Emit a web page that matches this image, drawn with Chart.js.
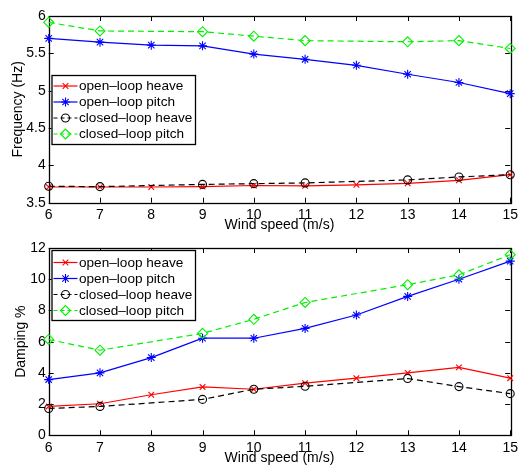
<!DOCTYPE html>
<html>
<head>
<meta charset="utf-8">
<script src="https://cdn.jsdelivr.net/npm/chart.js@4.4.0/dist/chart.umd.min.js"></script>
<style>
  html, body { margin: 0; padding: 0; background: #fff; }
  #wrap { position: relative; width: 522px; height: 465px; overflow: hidden; }
  canvas { position: absolute; left: 0; }
</style>
</head>
<body>
<div id="wrap">
  <canvas id="freq-canvas" width="522" height="232" style="top:0"></canvas>
  <canvas id="damp-canvas" width="522" height="233" style="top:232px"></canvas>
</div>
<script>
// wind speed on the x axis, shared by both panels
const windSpeed = [6, 7, 8, 9, 10, 11, 12, 13, 14, 15];

// frequency (Hz)
const freqOpenHeave   = [3.71, 3.71, 3.71, 3.715, 3.73, 3.725, 3.74, 3.76, 3.80, 3.875];
const freqOpenPitch   = [5.70, 5.65, 5.61, 5.60, 5.49, 5.42, 5.34, 5.22, 5.11, 4.96];
const freqClosedHeave = [3.72, 3.715, null, 3.745, 3.755, 3.765, null, 3.805, 3.845, 3.875];
const freqClosedPitch = [5.915, 5.80, null, 5.79, 5.73, 5.67, null, 5.655, 5.67, 5.565];

// damping (%)
const dampOpenHeave   = [1.85, 2.02, 2.6, 3.1, 2.95, 3.34, 3.66, 4.0, 4.35, 3.66];
const dampOpenPitch   = [3.57, 4.0, 4.98, 6.22, 6.22, 6.85, 7.71, 8.9, 10.0, 11.16];
const dampClosedHeave = [1.72, 1.85, null, 2.30, 2.95, 3.14, null, 3.64, 3.12, 2.67];
const dampClosedPitch = [6.14, 5.45, null, 6.53, 7.43, 8.51, null, 9.65, 10.28, 11.57];

const seriesNames = ['open\u2013loop heave', 'open\u2013loop pitch', 'closed\u2013loop heave', 'closed\u2013loop pitch'];
const freqTicks = [3.5, 4, 4.5, 5, 5.5, 6];
const dampTicks = [0, 2, 4, 6, 8, 10, 12];

const FONT = "'Liberation Sans', Arial, Helvetica, sans-serif";
Chart.defaults.font.family = FONT;
Chart.defaults.color = '#000';

// matlab-ish line styles
const STYLES = [
  { color: '#ff0000', dash: [],     point: 'crossRot', radius: 4 },
  { color: '#0000ff', dash: [],     point: 'star',     radius: 4.5 },
  { color: '#000000', dash: [6, 4], point: 'circle',   radius: 4 },
  { color: '#00f000', dash: [6, 4], point: 'rectRot',  radius: 5 }
];

function makeDatasets(arrays) {
  return arrays.map((vals, i) => ({
    label: seriesNames[i],
    data: vals,
    borderColor: STYLES[i].color,
    borderWidth: 1.2,
    borderDash: STYLES[i].dash,
    pointStyle: STYLES[i].point,
    pointRadius: STYLES[i].radius,
    pointBorderColor: STYLES[i].color,
    pointBackgroundColor: 'rgba(0,0,0,0)',
    pointBorderWidth: 1.1,
    tension: 0,
    fill: false,
    spanGaps: true,
    clip: false,
    order: 3 - i
  }));
}

// axes box with inward tick marks on all four sides
const boxTicksPlugin = {
  id: 'boxTicks',
  beforeDatasetsDraw(chart) {
    var ctx = chart.ctx, a = chart.chartArea;
    var xs = chart.scales.x, ys = chart.scales.y;
    var len = 5;
    ctx.save();
    ctx.strokeStyle = '#000';
    ctx.lineWidth = 1;
    ctx.beginPath();
    xs.ticks.forEach((t, i) => {
      var px = Math.round(xs.getPixelForTick(i)) + 0.5;
      ctx.moveTo(px, a.bottom); ctx.lineTo(px, a.bottom - len);
      ctx.moveTo(px, a.top); ctx.lineTo(px, a.top + len);
    });
    ys.ticks.forEach(t => {
      var py = Math.round(ys.getPixelForValue(t.value)) + 0.5;
      ctx.moveTo(a.left, py); ctx.lineTo(a.left + len, py);
      ctx.moveTo(a.right, py); ctx.lineTo(a.right - len, py);
    });
    ctx.stroke();
    ctx.lineWidth = 1.3;
    ctx.strokeRect(Math.round(a.left) + 0.5, Math.round(a.top) + 0.5,
                   Math.round(a.right - a.left), Math.round(a.bottom - a.top));
    ctx.restore();
  }
};

// boxed legend in the upper left, like matlab's
const boxLegendPlugin = {
  id: 'boxLegend',
  afterDraw(chart, args, opts) {
    var ctx = chart.ctx;
    ctx.save();
    ctx.fillStyle = '#fff';
    ctx.fillRect(opts.x, opts.y, opts.w, opts.h);
    ctx.strokeStyle = '#000';
    ctx.lineWidth = 1.3;
    ctx.strokeRect(opts.x + 0.5, opts.y + 0.5, opts.w, opts.h);
    ctx.font = '13.6px ' + FONT;
    ctx.textBaseline = 'middle';
    chart.data.datasets.forEach((ds, i) => {
      var yy = opts.y + opts.firstRow + i * opts.rowGap;
      var st = STYLES[i];
      ctx.strokeStyle = st.color;
      ctx.lineWidth = 1.2;
      ctx.setLineDash(st.dash.length ? [4, 3] : []);
      ctx.beginPath();
      ctx.moveTo(opts.x + 2, yy);
      ctx.lineTo(opts.x + 26, yy);
      ctx.stroke();
      ctx.setLineDash([]);
      ctx.lineWidth = 1.1;
      ctx.fillStyle = 'rgba(0,0,0,0)';
      if (Chart.helpers && Chart.helpers.drawPoint) {
        Chart.helpers.drawPoint(ctx, { pointStyle: st.point, radius: st.radius, borderWidth: 1.1, rotation: 0 }, opts.x + 14, yy);
      }
      ctx.fillStyle = '#000';
      ctx.fillText(ds.label, opts.x + 27.5, yy + 0.5);
    });
    ctx.restore();
  }
};

function makeChart(canvasId, arrays, yMin, yMax, yTicks, yTitle, yTitlePad, axisHeight, legend) {
  var canvas = document.getElementById(canvasId);
  return new Chart(canvas.getContext('2d'), {
    type: 'line',
    data: { labels: windSpeed, datasets: makeDatasets(arrays) },
    plugins: [boxTicksPlugin, boxLegendPlugin],
    options: {
      responsive: false,
      animation: false,
      devicePixelRatio: 1,
      layout: { padding: { top: 16, right: 7, left: 0, bottom: 0 } },
      events: [],
      scales: {
        x: {
          type: 'category',
          offset: false,
          grid: { display: false, drawTicks: false },
          border: { display: false },
          ticks: { font: { size: 14 }, color: '#000', padding: 4, maxRotation: 0, autoSkip: false },
          title: {
            display: true, text: 'Wind speed (m/s)', color: '#000',
            font: { size: 14, lineHeight: 1 }, padding: { top: 0, bottom: 0 }
          },
          afterFit(scale) { scale.height = axisHeight; }
        },
        y: {
          type: 'linear',
          min: yMin,
          max: yMax,
          grid: { display: false, drawTicks: false },
          border: { display: false },
          afterBuildTicks(scale) { scale.ticks = yTicks.map(v => ({ value: v })); },
          ticks: { font: { size: 14 }, color: '#000', padding: 3, callback: v => String(v) },
          title: {
            display: true, text: yTitle, color: '#000',
            font: { size: 14, lineHeight: 1 }, padding: { top: yTitlePad, bottom: 0 }
          },
          afterFit(scale) { scale.width = 48.7; }
        }
      },
      plugins: {
        legend: { display: false },
        tooltip: { enabled: false },
        boxLegend: legend
      }
    }
  });
}

makeChart('freq-canvas',
  [freqOpenHeave, freqOpenPitch, freqClosedHeave, freqClosedPitch],
  3.5, 6, freqTicks, 'Frequency (Hz)', 11, 29.3,
  { x: 51.5, y: 75, w: 143.5, h: 69, firstRow: 11, rowGap: 16 });

makeChart('damp-canvas',
  [dampOpenHeave, dampOpenPitch, dampClosedHeave, dampClosedPitch],
  0, 12, dampTicks, 'Damping %', 14, 29.7,
  { x: 51.5, y: 18, w: 143.5, h: 70, firstRow: 12.5, rowGap: 16 });
</script>
</body>
</html>
